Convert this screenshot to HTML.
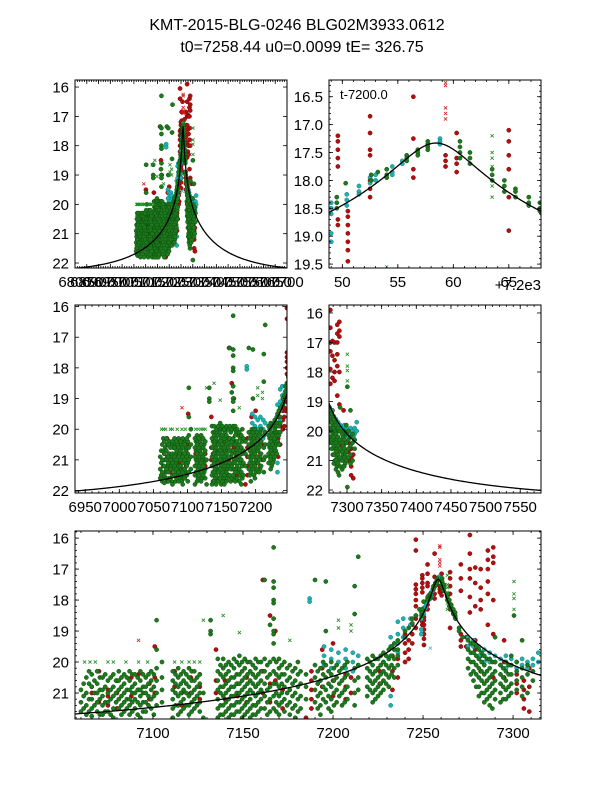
<!DOCTYPE html>
<html><head><meta charset="utf-8">
<style>
html,body{margin:0;padding:0;background:#fff;}
svg{display:block;font-family:"Liberation Sans",sans-serif;}
</style></head>
<body>
<svg id="chart" width="600" height="800" viewBox="0 0 600 800">
<text x="297" y="30" text-anchor="middle" font-size="16">KMT-2015-BLG-0246 BLG02M3933.0612</text>
<text x="302" y="52" text-anchor="middle" font-size="16">t0=7258.44 u0=0.0099 tE= 326.75</text>
</svg>
<script>
// model parameters
const modelT0 = 7258.44, modelU0 = 0.0099, modelTE = 326.75, modelPeakMag = 17.33;

// observations: [time, [magnitudes...]]
const redDots = [[7066,[20.8,21.0]],[7070,[20.3,21.3]],[7075,[20.9,21.1,21.4]],[7080,[20.6,21.0,21.5]],[7088,[20.5,21.1]],[7092,[20.4,20.9]],[7098,[20.7,21.2]],[7101,[19.5,20.5,21.0]],[7112,[20.3,20.8]],[7116,[21.0,21.4]],[7121,[20.5,21.0]],[7126,[20.4,20.8,21.2]],[7135,[19.6,20.6,21.0]],[7140,[20.6,21.2]],[7147,[20.7,21.1]],[7152,[20.5,21.3]],[7157,[20.8,21.4]],[7161,[17.35,20.3,21.0]],[7165,[18.5,20.7,21.3]],[7168,[19.0,20.6]],[7172,[20.9,21.5]],[7185,[21.8]],[7188,[20.3,20.6,20.9,21.2,21.5]],[7194,[19.6,20.2,20.8]],[7200,[19.4,20.6,21.1]],[7207,[20.4,20.8,21.2]],[7210,[20.5,21.0]],[7226,[20.3,20.7]],[7233,[19.8,20.3,20.9]],[7236,[19.9,20.5]],[7240,[19.1,19.4,19.7,20.0]],[7242,[19.3,19.6,19.9]],[7244,[18.8,19.1,19.4]],[7246,[16.05,16.4,17.5,17.65,17.8,18.0,18.2,18.5,18.6,18.9]],[7249.6,[17.2,17.3,17.45,17.6,17.75,18.7,18.8]],[7250.5,[18.55,18.65,18.8,18.95,19.1,19.25,19.45]],[7252.5,[16.85,17.15,17.45,17.55,18.0,18.15,18.3]],[7256.4,[16.5,17.25,17.8,17.95]],[7259.3,[17.55,17.65,17.75]],[7260.3,[17.15,17.6,17.7,17.85]],[7265,[17.1,17.3,17.55,17.8,18.3,18.9]],[7271,[16.85,17.3,17.7,19.1,19.3,19.5]],[7274,[19.2,19.5]],[7276,[15.9,16.5,17.0,17.3,17.9,18.4]],[7279,[16.95,17.45,18.2,19.3,19.6]],[7282,[17.0,17.6,18.0,18.3,19.8,20.3]],[7286,[16.4,16.7,17.0,17.4,17.8,18.8]],[7289,[16.3,16.6,16.8,18.0,19.1,20.5]],[7295,[19.3,20.0,20.5]],[7302,[20.4,20.7,21.0]],[7306,[20.6,20.9,21.2,21.5]],[7309,[20.2,20.8,21.6]]];
const cyanDots = [[7187,[17.95,18.05]],[7195,[19.5,19.8,20.1]],[7199,[19.6,19.9,20.2]],[7203,[19.7,20.0]],[7207,[19.6,19.9,20.2]],[7211,[19.7,20.0,20.3]],[7214,[19.8,20.1]],[7228,[20.0,20.3]],[7232,[19.2,19.5,19.8,21.1,21.4]],[7236,[18.7,19.1,19.4,19.7]],[7239,[18.6,18.9,19.2]],[7243,[18.6,18.8]],[7249,[18.4,18.5,18.6,18.95,19.1]],[7250.4,[18.25,18.35,18.45]],[7251.5,[18.1,18.2,18.25]],[7252.5,[17.95,18.05]],[7253,[17.9,18.0]],[7254.5,[17.75,17.85,17.9]],[7255.4,[17.65,17.7]],[7258.8,[17.25,17.3,17.35]],[7275,[19.2,19.5]],[7278,[19.3,19.5,19.7]],[7281,[19.5,19.8]],[7284,[19.6,19.8,20.0]],[7287,[19.7,20.0]],[7290,[19.8,20.0]],[7293,[19.9,20.1]],[7296,[19.8,20.0,20.2]],[7299,[19.9,20.1]],[7302,[20.0,20.2]],[7305,[19.9,20.1]],[7308,[20.0,20.2]],[7311,[19.9,20.1,20.3]],[7314,[19.7,20.0]]];
const greenDots = [[7060,[20.9,21.3,21.6]],[7063,[20.5,21.0,21.4,21.7]],[7066,[20.4,20.8,21.2,21.5,21.75]],[7069,[20.3,20.7,21.0,21.3,21.6]],[7072,[20.5,20.9,21.1,21.4,21.7]],[7075,[20.6,21.0,21.3,21.6]],[7078,[20.4,20.8,21.1,21.5,21.8]],[7081,[20.3,20.6,20.9,21.2,21.5]],[7084,[20.4,20.7,21.0,21.3,21.6]],[7087,[20.3,20.6,20.9,21.2,21.4,21.7]],[7090,[20.4,20.7,21.0,21.2,21.5]],[7093,[20.3,20.6,20.9,21.1,21.4,21.8]],[7096,[20.5,20.8,21.0,21.3,21.6]],[7099,[20.3,20.6,20.9,21.2,21.5]],[7102,[18.65,19.6,20.2,20.6,21.0,21.4]],[7105,[20.0,20.5,20.9,21.3]],[7111,[20.3,20.6,20.9,21.2,21.5,21.8]],[7114,[20.2,20.5,20.8,21.1,21.4,21.7]],[7117,[20.3,20.6,20.9,21.2,21.5]],[7120,[20.2,20.5,20.8,21.1,21.4,21.7]],[7123,[20.3,20.6,20.9,21.2,21.5]],[7126,[20.4,20.7,21.0,21.3,21.6]],[7128,[21.0,21.8]],[7132,[18.65,19.0,19.1]],[7136,[19.9,20.3,20.6,20.9,21.2,21.5,21.8]],[7139,[19.9,20.2,20.5,20.8,21.1,21.4,21.7]],[7142,[20.0,20.3,20.6,20.9,21.2,21.5,21.8]],[7145,[19.9,20.2,20.5,20.8,21.1,21.4,21.7]],[7148,[19.8,20.1,20.4,20.7,21.0,21.3,21.6]],[7151,[19.9,20.2,20.5,20.8,21.1,21.4,21.7]],[7154,[20.0,20.3,20.6,20.9,21.2,21.5,21.8]],[7157,[19.9,20.2,20.5,20.8,21.1,21.4,21.7]],[7160,[20.0,20.3,20.6,20.9,21.2,21.5]],[7162,[17.35,19.9,20.3,20.7,21.1,21.5]],[7165,[18.8,20.0,20.4,20.8,21.2,21.6]],[7167,[16.3,17.4,17.6,18.0,18.1,18.6,19.0,19.1,19.4,19.9,20.3,20.7,21.1,21.5]],[7170,[19.9,20.2,20.5,20.8,21.1,21.4,21.7]],[7173,[20.0,20.4,20.8,21.2,21.6]],[7176,[20.1,20.5,20.9,21.3,21.7]],[7179,[20.2,20.6,21.0,21.4,21.8]],[7182,[20.3,20.7,21.1,21.5]],[7185,[20.4,20.8,21.2]],[7190,[17.35,20.1,20.5,20.9,21.3]],[7193,[20.2,20.6,21.0,21.4,21.7]],[7196,[17.4,19.0,20.1,20.5,20.9,21.3]],[7199,[20.0,20.4,20.8,21.2,21.6]],[7202,[20.1,20.5,20.9,21.3]],[7205,[20.2,20.6,21.0,21.4]],[7208,[20.0,20.4,20.8,21.2]],[7212,[17.55,18.45,20.2,20.6,21.0,21.4]],[7214,[16.6,20.1,20.5,20.9]],[7219,[19.9,20.2,20.5,20.8,21.1]],[7222,[19.8,20.1,20.4,20.7,21.0,21.3]],[7225,[19.9,20.2,20.5,20.8,21.1]],[7228,[19.7,20.0,20.3,20.6,20.9]],[7231,[19.6,19.9,20.2,20.5,20.8]],[7234,[19.4,19.6,19.9,20.2,20.5]],[7236,[19.3,19.6,19.8,20.1]],[7240,[19.2,19.0]],[7242,[18.9]],[7244,[18.75,18.6]],[7246,[18.5]],[7248,[18.3]],[7249.5,[18.3,18.4,18.5]],[7250.3,[18.05]],[7252.6,[17.9,18.0]],[7253.2,[17.85]],[7254,[17.8,17.9,17.95]],[7255.8,[17.55,17.6,17.65]],[7256.8,[17.45,17.5,17.55]],[7257.7,[17.3,17.35,17.4,17.45]],[7260.6,[17.3,17.4,17.5,17.6]],[7261.5,[17.5,17.6,17.7]],[7263.5,[17.8,17.9,18.0]],[7264.6,[18.0,18.1,18.2]],[7265.6,[18.15,18.2,18.3]],[7266.8,[18.3,18.4,18.45]],[7267.8,[18.4,18.5,18.55]],[7268,[18.6]],[7270,[18.9,19.0]],[7272,[19.2]],[7275,[19.3,19.6,19.9,20.2]],[7278,[19.4,19.7,20.0,20.3,20.6]],[7281,[19.6,19.9,20.2,20.5,20.8,21.1]],[7284,[19.8,20.1,20.4,20.7,21.0,21.3]],[7287,[19.9,20.2,20.5,20.8,21.1,21.4]],[7290,[19.2,20.0,20.3,20.6,20.9,21.2]],[7293,[20.1,20.4,20.7,21.0,21.3]],[7296,[20.0,20.3,20.6,20.9,21.2]],[7299,[19.8,20.1,20.4,20.7,21.0]],[7300.5,[18.5,21.9]],[7302,[20.0,20.3,20.6,20.9]],[7305,[19.3,20.2,20.5,20.8,21.1]],[7308,[20.1,20.4,21.0]],[7311,[20.3,20.6]]];
const greenDotsExtra = [[7061.5,[20.7,21.1,21.5]],[7064.5,[20.3,20.7,21.2,21.6]],[7067.5,[20.6,21.0,21.4]],[7070.5,[20.5,20.9,21.2,21.7]],[7073.5,[20.4,20.8,21.3,21.6]],[7076.5,[20.5,20.9,21.2,21.7]],[7079.5,[20.6,21.0,21.3]],[7082.5,[20.5,20.8,21.1,21.4,21.7]],[7085.5,[20.5,20.9,21.2,21.5]],[7088.5,[20.4,20.8,21.0,21.3,21.6]],[7091.5,[20.5,20.9,21.3,21.7]],[7094.5,[20.4,20.8,21.0,21.3,21.6]],[7097.5,[20.4,20.7,21.1,21.4]],[7100.5,[20.4,20.8,21.1,21.7]],[7112.5,[20.4,20.7,21.0,21.4]],[7115.5,[20.4,20.7,21.0,21.3,21.6]],[7118.5,[20.4,20.7,21.0,21.4]],[7121.5,[20.3,20.6,21.0,21.3,21.6]],[7124.5,[20.5,20.8,21.1,21.4]],[7137.5,[20.1,20.4,20.8,21.0,21.4,21.7]],[7140.5,[20.1,20.4,20.7,21.0,21.3,21.6]],[7143.5,[20.1,20.5,20.8,21.1,21.4,21.7]],[7146.5,[20.0,20.4,20.7,21.0,21.3,21.6]],[7149.5,[20.0,20.3,20.6,20.9,21.2,21.5,21.8]],[7152.5,[20.0,20.4,20.7,21.0,21.3,21.6]],[7155.5,[20.1,20.4,20.7,21.0,21.4,21.7]],[7158.5,[20.0,20.4,20.7,21.0,21.3,21.6]],[7163.5,[20.1,20.5,20.9,21.3,21.7]],[7168.5,[20.0,20.4,20.7,21.0,21.3,21.6]],[7171.5,[20.1,20.4,20.7,21.0,21.3]],[7174.5,[20.2,20.6,21.0,21.4]],[7177.5,[20.3,20.7,21.1,21.5]],[7180.5,[20.0,20.4,20.8,21.2,21.6]],[7191.5,[20.3,20.7,21.1,21.5]],[7194.5,[20.0,20.4,20.8,21.2]],[7197.5,[20.3,20.7,21.1,21.5]],[7200.5,[20.2,20.6,21.0,21.4]],[7203.5,[20.3,20.7,21.1]],[7206.5,[20.1,20.5,20.9,21.3]],[7220.5,[20.0,20.3,20.6,20.9]],[7223.5,[19.9,20.3,20.6,20.9,21.2]],[7226.5,[19.8,20.1,20.4,20.7,21.0]],[7229.5,[19.8,20.1,20.4,20.7]],[7232.5,[19.5,19.8,20.1,20.4]],[7276.5,[19.4,19.7,20.0,20.4]],[7279.5,[19.5,19.8,20.1,20.4,20.8]],[7282.5,[19.7,20.0,20.3,20.6,21.0]],[7285.5,[19.9,20.3,20.6,20.9,21.2]],[7288.5,[20.0,20.4,20.7,21.0,21.5]],[7294.5,[20.2,20.5,20.8,21.2]],[7297.5,[20.1,20.4,20.8,21.1]]];
const redCrosses = [[7092,[19.3]],[7259.3,[16.25,16.3,16.7,16.8,16.9]]];
const cyanCrosses = [[7254,[19.55]]];
const greenCrosses = [[7062,[20.0]],[7065,[20.0]],[7068,[20.0]],[7075,[20.0]],[7078,[20.0]],[7085,[20.0]],[7092,[20.0]],[7097,[20.0]],[7112,[20.0]],[7116,[20.0]],[7120,[20.0]],[7123,[20.0]],[7126,[20.0]],[7128,[18.65]],[7139,[18.5]],[7148,[19.05]],[7176,[19.3]],[7203,[18.65,18.9]],[7210,[18.8,19.0]],[7263.5,[17.2,17.5,17.6,17.75,18.1,18.3]],[7300.5,[17.4,17.8,17.95,18.3]]];

// tick labels per panel
const p1XTicks = [6800,6850,6900,6950,7000,7050,7100,7150,7200,7250,7300,7350,7400,7450,7500,7550,7600,7650,7700];
const p1YTicks = [16,17,18,19,20,21,22];
const p2XTicks = [50,55,60,65];
const p2YTicks = [16.5,17.0,17.5,18.0,18.5,19.0,19.5];
const p3XTicks = [6950,7000,7050,7100,7150,7200];
const p3YTicks = [16,17,18,19,20,21,22];
const p4XTicks = [7300,7350,7400,7450,7500,7550];
const p4YTicks = [16,17,18,19,20,21,22];
const p5XTicks = [7100,7150,7200,7250,7300];
const p5YTicks = [16,17,18,19,20,21];

const NS = 'http://www.w3.org/2000/svg';
const svg = document.getElementById('chart');
function mk(tag, attrs, parent){const e=document.createElementNS(NS,tag);for(const k in attrs)e.setAttribute(k,attrs[k]);(parent||svg).appendChild(e);return e;}

function modelMag(t){
  const tau=(t-modelT0)/modelTE;const u=Math.sqrt(modelU0*modelU0+tau*tau);
  const A=(u*u+2)/(u*Math.sqrt(u*u+4));const u0=modelU0;
  const Amax=(u0*u0+2)/(u0*Math.sqrt(u0*u0+4));
  return modelPeakMag+2.5*Math.log10(Amax/A);
}

const panels = [
 {id:'p1',x0:75,x1:287,y0:80,y1:268,t0:6800,t1:7700,m0:15.76,m1:22.17,xt:p1XTicks,yt:p1YTicks,xoff:0,yfmt:0,xminor:5,yminor:0},
 {id:'p2',x0:329,x1:541,y0:80,y1:268,t0:7248.8,t1:7267.9,m0:16.2,m1:19.57,xt:p2XTicks,yt:p2YTicks,xoff:7200,yfmt:1,xminor:5,yminor:5},
 {id:'p3',x0:75,x1:287,y0:305,y1:493,t0:6935,t1:7246,m0:15.95,m1:22.08,xt:p3XTicks,yt:p3YTicks,xoff:0,yfmt:0,xminor:5,yminor:0},
 {id:'p4',x0:329,x1:541,y0:305,y1:493,t0:7274,t1:7580,m0:15.73,m1:22.1,xt:p4XTicks,yt:p4YTicks,xoff:0,yfmt:0,xminor:5,yminor:0},
 {id:'p5',x0:75,x1:541,y0:531,y1:719,t0:7056.7,t1:7315.5,m0:15.77,m1:21.84,xt:p5XTicks,yt:p5YTicks,xoff:0,yfmt:0,xminor:5,yminor:5}
];

const defs = mk('defs',{});
panels.forEach(p=>{
  const X=t=>p.x0+(t-p.t0)/(p.t1-p.t0)*(p.x1-p.x0);
  const Y=m=>p.y0+(m-p.m0)/(p.m1-p.m0)*(p.y1-p.y0);
  const cp=mk('clipPath',{id:'clip-'+p.id},defs);
  mk('rect',{x:p.x0,y:p.y0,width:p.x1-p.x0,height:p.y1-p.y0},cp);
  const g=mk('g',{});
  
  
  const plot=mk('g',{'clip-path':'url(#clip-'+p.id+')'},g);
  
  
  function dots(series,fill,stroke,name){
    const sg=mk('g',{},plot);
    
    
    series.forEach(([t,ms])=>{ms.forEach(m=>{
      const c=mk('circle',{cx:X(t).toFixed(2),cy:Y(m).toFixed(2),r:2.1,fill:fill,stroke:stroke,'stroke-width':0.5},sg);
      
      
    });});
  }
  function crosses(series,color,name){
    const sg=mk('g',{},plot);
    
    
    series.forEach(([t,ms])=>{ms.forEach(m=>{
      const x=X(t),y=Y(m),s=1.6;
      const pth=mk('path',{d:`M${x-s},${y-s}L${x+s},${y+s}M${x-s},${y+s}L${x+s},${y-s}`,stroke:color,'stroke-width':0.8,fill:'none'},sg);
      
      
    });});
  }
  dots(redDots,'#b01010','#7a0000','red-series');
  dots(cyanDots,'#20b0b0','#0f7f7f','cyan-series');
  dots(greenDotsExtra,'#1e7a1e','#0b4d0b','green-series-extra');
  dots(greenDots,'#1e7a1e','#0b4d0b','green-series');
  crosses(redCrosses,'#d02020','red-cross-series');
  crosses(cyanCrosses,'#30c0c0','cyan-cross-series');
  crosses(greenCrosses,'#1e8a1e','green-cross-series');
  let d='';const N=300;
  for(let i=0;i<=N;i++){const t=p.t0+(p.t1-p.t0)*i/N;d+=(i?'L':'M')+X(t).toFixed(2)+','+Y(modelMag(t)).toFixed(2);}
  const curve=mk('path',{d:d,stroke:'#000','stroke-width':1.3,fill:'none'},plot);
  
  
  const fr=mk('rect',{x:p.x0,y:p.y0,width:p.x1-p.x0,height:p.y1-p.y0,fill:'none',stroke:'#000','stroke-width':1},g);
  
  
  const tg=mk('g',{stroke:'#000','stroke-width':0.8},g);
  
  
  const step=p.xt[1]-p.xt[0];
  if(p.xminor){const ms=step/p.xminor;for(let v=Math.ceil((p.t0-p.xoff)/ms)*ms;v+p.xoff<=p.t1;v+=ms){const x=X(v+p.xoff);mk('line',{x1:x,y1:p.y1,x2:x,y2:p.y1-2},tg);mk('line',{x1:x,y1:p.y0,x2:x,y2:p.y0+2},tg);}}
  const ystep=p.yt[1]-p.yt[0];
  if(p.yminor){const ms=ystep/p.yminor;for(let v=Math.ceil(p.m0/ms)*ms;v<=p.m1;v+=ms){const y=Y(v);mk('line',{x1:p.x0,y1:y,x2:p.x0+2,y2:y},tg);mk('line',{x1:p.x1,y1:y,x2:p.x1-2,y2:y},tg);}}
  p.xt.forEach(v=>{
    const x=X(v+p.xoff);
    mk('line',{x1:x,y1:p.y1,x2:x,y2:p.y1-4},tg);mk('line',{x1:x,y1:p.y0,x2:x,y2:p.y0+4},tg);
    const tx=mk('text',{x:x,y:p.y1+19,'text-anchor':'middle','font-size':15},g);
    tx.textContent=String(v);
    
    
  });
  p.yt.forEach(v=>{
    const y=Y(v);
    mk('line',{x1:p.x0,y1:y,x2:p.x0+4,y2:y},tg);mk('line',{x1:p.x1,y1:y,x2:p.x1-4,y2:y},tg);
    const tx=mk('text',{x:p.x0-6,y:y+5.5,'text-anchor':'end','font-size':15},g);
    tx.textContent=p.yfmt?v.toFixed(1):String(v);
    
    
  });
});
const off=mk('text',{x:541,y:290,'text-anchor':'end','font-size':15});
off.textContent='+7.2e3';


const ann=mk('text',{x:340,y:99,'font-size':13});
ann.textContent='t-7200.0';


</script>
</body></html>
